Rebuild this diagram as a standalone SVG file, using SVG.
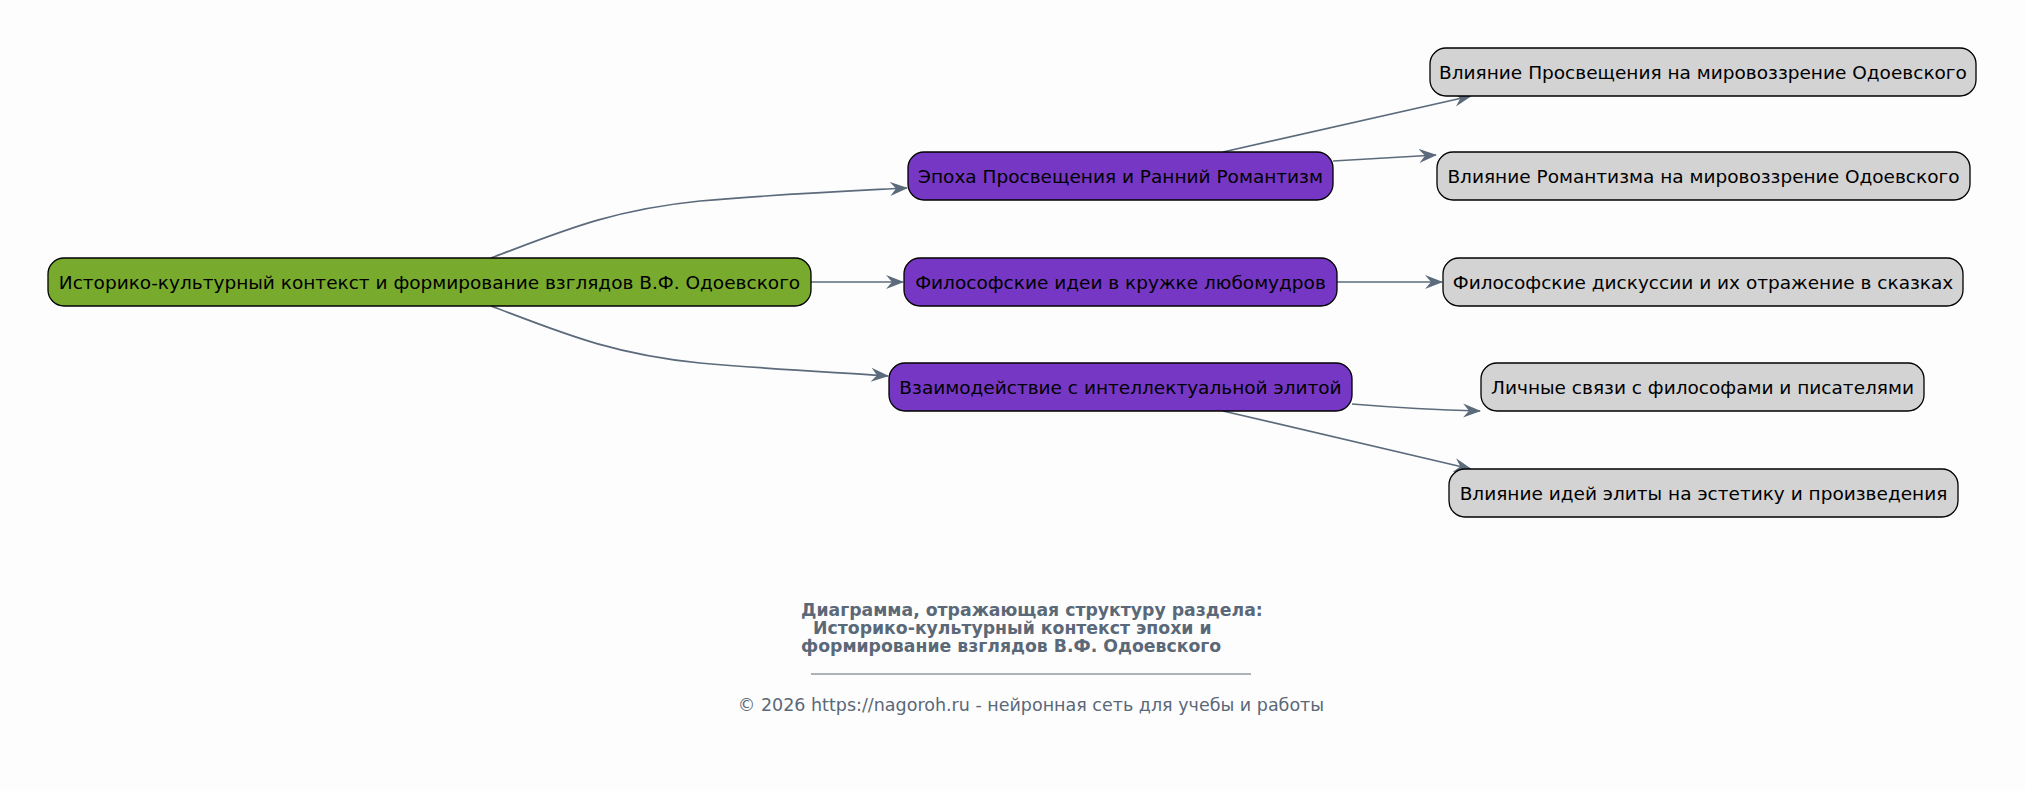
<svg xmlns="http://www.w3.org/2000/svg" width="2025" height="791" viewBox="0 0 2025 791">
<style>
.n text{font-family:"DejaVu Sans",sans-serif;font-size:18.5px;fill:#000;text-anchor:middle;dominant-baseline:central}
.n rect{stroke:#000;stroke-width:1.3}
.root rect{fill:#78ab2d}
.mid rect{fill:#7637c4}
.leaf rect{fill:#d3d3d3}
.e path{fill:none;stroke:#5b6b7b;stroke-width:1.7;marker-end:url(#a)}
.cap{font-family:"DejaVu Sans",sans-serif;fill:#5a6878}
</style>
<defs>
<marker id="a" viewBox="0 0 18 15" refX="17" refY="7.5" markerWidth="18" markerHeight="15" markerUnits="userSpaceOnUse" orient="auto">
<path d="M0,0.5 L18,7.5 L0,14.5 L6,7.5 z" fill="#5b6b7b"/>
</marker>
</defs>
<rect width="2025" height="791" fill="#fdfdfd"/>
<g class="e" id="connectors">
<path d="M491,258 C560,232 610,210 700,201 C780,194 850,191 907,188"/>
<path d="M811,282 L903,282"/>
<path d="M491,306 C560,332 610,354 700,363 C780,370 850,373 888,376"/>
<path d="M1223,152 L1471,96"/>
<path d="M1333,161 L1436,155"/>
<path d="M1337,282 L1442,282"/>
<path d="M1352,404 C1400,408 1440,410 1480,411"/>
<path d="M1223,411 L1471,469"/>
</g>
<g class="n root" id="n0"><rect x="48" y="258" width="763" height="48" rx="16"/><text x="429.5" y="282">Историко-культурный контекст и формирование взглядов В.Ф. Одоевского</text></g>
<g class="n mid" id="n1"><rect x="908" y="152" width="425" height="48" rx="16"/><text x="1120.5" y="176">Эпоха Просвещения и Ранний Романтизм</text></g>
<g class="n mid" id="n2"><rect x="904" y="258" width="433" height="48" rx="16"/><text x="1120.5" y="282">Философские идеи в кружке любомудров</text></g>
<g class="n mid" id="n3"><rect x="889" y="363" width="463" height="48" rx="16"/><text x="1120.5" y="387">Взаимодействие с интеллектуальной элитой</text></g>
<g class="n leaf" id="n4"><rect x="1430" y="48" width="546" height="48" rx="16"/><text x="1703" y="72">Влияние Просвещения на мировоззрение Одоевского</text></g>
<g class="n leaf" id="n5"><rect x="1437" y="152" width="533" height="48" rx="16"/><text x="1703.5" y="176">Влияние Романтизма на мировоззрение Одоевского</text></g>
<g class="n leaf" id="n6"><rect x="1443" y="258" width="520" height="48" rx="16"/><text x="1703" y="282">Философские дискуссии и их отражение в сказках</text></g>
<g class="n leaf" id="n7"><rect x="1481" y="363" width="443" height="48" rx="16"/><text x="1702.5" y="387">Личные связи с философами и писателями</text></g>
<g class="n leaf" id="n8"><rect x="1449" y="469" width="509" height="48" rx="16"/><text x="1703.5" y="493">Влияние идей элиты на эстетику и произведения</text></g>
<g id="caption">
<text class="cap" font-weight="bold" font-size="17.3" x="801" y="616">Диаграмма, отражающая структуру раздела:</text>
<text class="cap" font-weight="bold" font-size="17.3" x="801" y="634" xml:space="preserve">  Историко-культурный контекст эпохи и</text>
<text class="cap" font-weight="bold" font-size="17.3" x="801" y="652">формирование взглядов В.Ф. Одоевского</text>
<line x1="811" y1="674" x2="1251" y2="674" stroke="#5a6878" stroke-width="1"/>
<text class="cap" font-size="17.5" x="1031" y="711" text-anchor="middle">© 2026 https://nagoroh.ru - нейронная сеть для учебы и работы</text>
</g>
</svg>
